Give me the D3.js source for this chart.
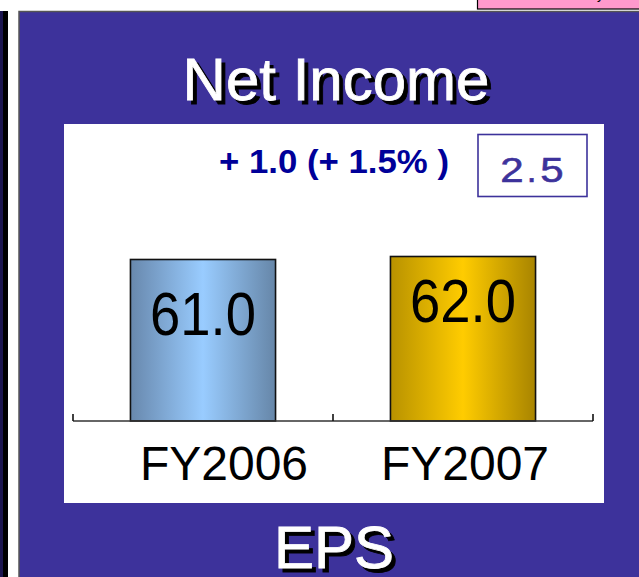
<!DOCTYPE html>
<html><head><meta charset="utf-8">
<script src="https://cdn.jsdelivr.net/npm/d3@7"></script>
<style>body{margin:0;background:#fff;} svg{display:block;}</style>
</head><body>
<svg id="c" width="639" height="577"></svg>
<script>
const categories = ["FY2006", "FY2007"];
const values = [61.0, 62.0];
const valueLabels = ["61.0", "62.0"];
const titleText = "Net Income";
const footerText = "EPS";
const changeText = "+ 1.0 (+ 1.5% )";
const boxChars = ["2", ".", "5"];

const svg = d3.select("#c");
const FONT = "'Liberation Sans', Arial, sans-serif";
const defs = svg.append("defs");

// pink box top-right
svg.append("rect").attr("x", 477.5).attr("y", -2).attr("width", 170).attr("height", 11)
  .attr("fill", "#ff99cc").attr("stroke", "#000").attr("stroke-width", 1.2);
svg.append("text").attr("x", 597).attr("y", -1).attr("font-family", FONT).attr("font-size", 14)
  .attr("fill", "#000").text("y");

// left strip
svg.append("rect").attr("x", 0).attr("y", 11).attr("width", 3).attr("height", 577).attr("fill", "#1c1650");
svg.append("rect").attr("x", 3).attr("y", 11).attr("width", 5).attr("height", 577).attr("fill", "#000");

// blue panel
svg.append("rect").attr("x", 19).attr("y", 11.5).attr("width", 640).attr("height", 600)
  .attr("fill", "#3d329b").attr("stroke", "#555").attr("stroke-width", 1.5);

// white inner
svg.append("rect").attr("x", 64).attr("y", 124).attr("width", 540).attr("height", 379).attr("fill", "#fff");

// titles with shadow
function shadowText(t, x, y, size) {
  [[4, 4, "#000"], [0, 0, "#fff"]].forEach(([dx, dy, col]) => {
    svg.append("text").attr("x", x + dx).attr("y", y + dy).attr("text-anchor", "middle")
      .attr("font-family", FONT).attr("font-size", size).attr("fill", col)
      .attr("stroke", col).attr("stroke-width", 0.8).text(t);
  });
}
shadowText(titleText, 336, 100, 60);
shadowText(footerText, 334, 568, 60);

// scales
const x = d3.scaleBand().domain(categories).range([73, 593]).paddingInner(0.442).paddingOuter(0.221);
const y = d3.scaleLinear().domain([7, 62]).range([421, 256.5]);

// gradients
const grads = [
  {id: "g0", stops: [["0%", "#6888ad"], ["50%", "#99ccff"], ["100%", "#6686a8"]]},
  {id: "g1", stops: [["0%", "#b89200"], ["50%", "#ffcc00"], ["100%", "#a88400"]]}
];
grads.forEach(g => {
  const lg = defs.append("linearGradient").attr("id", g.id).attr("x1", "0%").attr("x2", "100%").attr("y1", "0%").attr("y2", "0%");
  g.stops.forEach(s => lg.append("stop").attr("offset", s[0]).attr("stop-color", s[1]));
});

// bars
svg.selectAll("rect.bar").data(values).enter().append("rect").attr("class", "bar")
  .attr("x", (d, i) => x(categories[i]))
  .attr("y", d => y(d))
  .attr("width", x.bandwidth())
  .attr("height", d => y.range()[0] - y(d))
  .attr("fill", (d, i) => `url(#g${i})`)
  .attr("stroke", "#111").attr("stroke-width", 1.6);

// axis
const base = y.range()[0];
svg.append("line").attr("x1", x.range()[0]).attr("x2", x.range()[1]).attr("y1", base).attr("y2", base)
  .attr("stroke", "#333").attr("stroke-width", 1.6);
const edges = [x.range()[0]].concat(categories.map(c => x(c) + x.bandwidth() / 2 + x.step() / 2));
svg.selectAll("line.tick").data(edges).enter().append("line").attr("class", "tick")
  .attr("x1", d => d).attr("x2", d => d).attr("y1", base).attr("y2", base - 7)
  .attr("stroke", "#111").attr("stroke-width", 1.6);

// category labels
const labelShift = [21, 2];
svg.selectAll("text.cat").data(categories).enter().append("text").attr("class", "cat")
  .attr("x", (d, i) => x(d) + x.bandwidth() / 2 + labelShift[i])
  .attr("y", 480).attr("text-anchor", "middle")
  .attr("font-family", FONT).attr("font-size", 48).attr("fill", "#000").text(d => d);

// value labels
const valueDy = [76, 65.5];
svg.selectAll("text.val").data(values).enter().append("text").attr("class", "val")
  .attr("x", (d, i) => x(categories[i]) + x.bandwidth() / 2)
  .attr("y", (d, i) => y(d) + valueDy[i]).attr("text-anchor", "middle")
  .attr("font-family", FONT).attr("font-size", 62).attr("fill", "#000")
  .attr("textLength", 106).attr("lengthAdjust", "spacingAndGlyphs")
  .text((d, i) => valueLabels[i]);

// change text
svg.append("text").attr("x", 219).attr("y", 173).attr("font-family", FONT).attr("font-size", 34)
  .attr("font-weight", "bold").attr("fill", "#000099")
  .attr("textLength", 230).attr("lengthAdjust", "spacingAndGlyphs").text(changeText);

// boxed value
svg.append("rect").attr("x", 478).attr("y", 134.5).attr("width", 109).attr("height", 62)
  .attr("fill", "#fff").attr("stroke", "#3d329b").attr("stroke-width", 1.6);
const boxX = [512, 531.5, 552];
const boxScale = [1.2, 1, 1.2];
boxChars.forEach((c, i) => {
  svg.append("text").attr("transform", `translate(${boxX[i]},182) scale(${boxScale[i]},1)`)
    .attr("text-anchor", "middle").attr("font-family", FONT).attr("font-size", 35)
    .attr("fill", "#3d329b").attr("stroke", "#3d329b").attr("stroke-width", 0.6).text(c);
});
</script>
</body></html>
